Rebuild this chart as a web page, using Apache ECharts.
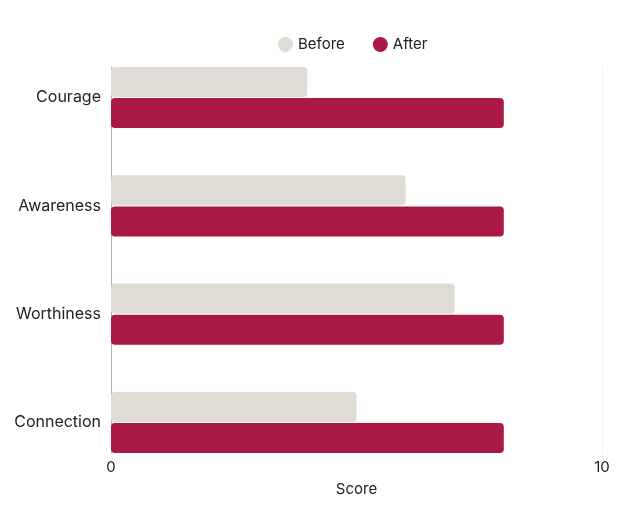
<!DOCTYPE html>
<html>
<head>
<meta charset="utf-8">
<script src="https://cdn.jsdelivr.net/npm/echarts@6/dist/echarts.min.js"></script>
<style>
  html, body { margin: 0; padding: 0; background: #fff; }
  #main { width: 626px; height: 524px; }
</style>
</head>
<body>
<div id="main"></div>
<script>
// 数据
var categories = ['Courage', 'Awareness', 'Worthiness', 'Connection'];
var beforeScores = [4, 6, 7, 5];
var afterScores = [8, 8, 8, 8];
var xTicks = [0, 10];

var font = 'Inter, "Noto Sans", sans-serif';
var myChart = echarts.init(document.getElementById('main'));

var option = {
    backgroundColor: '#ffffff',
    textStyle: { fontFamily: font },
    legend: {
        top: 32,
        left: 273,
        icon: 'circle',
        itemWidth: 15,
        itemHeight: 15,
        itemGap: 28,
        textStyle: { fontSize: 15, color: '#222', fontFamily: font },
        data: ['Before', 'After']
    },
    // grid 0: 坐标轴框, grid 1: 柱子
    grid: [
        { left: 111, right: 24, top: 67, bottom: 71 },
        { left: 111, right: 24, top: 97.5, bottom: 101.5 }
    ],
    xAxis: [
        {
            gridIndex: 0,
            type: 'value',
            min: xTicks[0],
            max: xTicks[xTicks.length - 1],
            interval: xTicks[1] - xTicks[0],
            name: 'Score',
            nameLocation: 'middle',
            nameGap: 29,
            nameTextStyle: { fontSize: 15, color: '#222', fontFamily: font },
            axisLine: { show: false },
            axisTick: { show: false },
            axisLabel: { fontSize: 15, color: '#222', margin: 7, fontFamily: font },
            splitLine: { show: true, lineStyle: { color: '#f2f2f2', width: 1 } }
        },
        {
            gridIndex: 1,
            type: 'value',
            min: xTicks[0],
            max: xTicks[xTicks.length - 1],
            show: false
        }
    ],
    yAxis: [
        {
            gridIndex: 0,
            type: 'category',
            data: [],
            axisLine: { show: true, lineStyle: { color: '#b5b5b5', width: 1 } },
            axisTick: { show: false },
            axisLabel: { show: false },
            splitLine: { show: false }
        },
        {
            gridIndex: 1,
            type: 'category',
            data: categories,
            inverse: true,
            boundaryGap: false,
            axisLine: { show: false },
            axisTick: { show: false },
            axisLabel: { fontSize: 16, color: '#222', margin: 10, fontFamily: font },
            splitLine: { show: false }
        }
    ],
    series: [
        {
            name: 'Before',
            type: 'bar',
            xAxisIndex: 1,
            yAxisIndex: 1,
            data: beforeScores,
            barWidth: 30,
            barGap: '4%',
            itemStyle: { color: '#e0dcd5', borderRadius: 4 }
        },
        {
            name: 'After',
            type: 'bar',
            xAxisIndex: 1,
            yAxisIndex: 1,
            data: afterScores,
            barWidth: 30,
            barGap: '4%',
            itemStyle: { color: '#a91944', borderRadius: 4 }
        }
    ]
};
myChart.setOption(option);

window.onresize = function () {
    setTimeout(function () {
        myChart.resize();
    }, 50);
};
</script>
</body>
</html>
